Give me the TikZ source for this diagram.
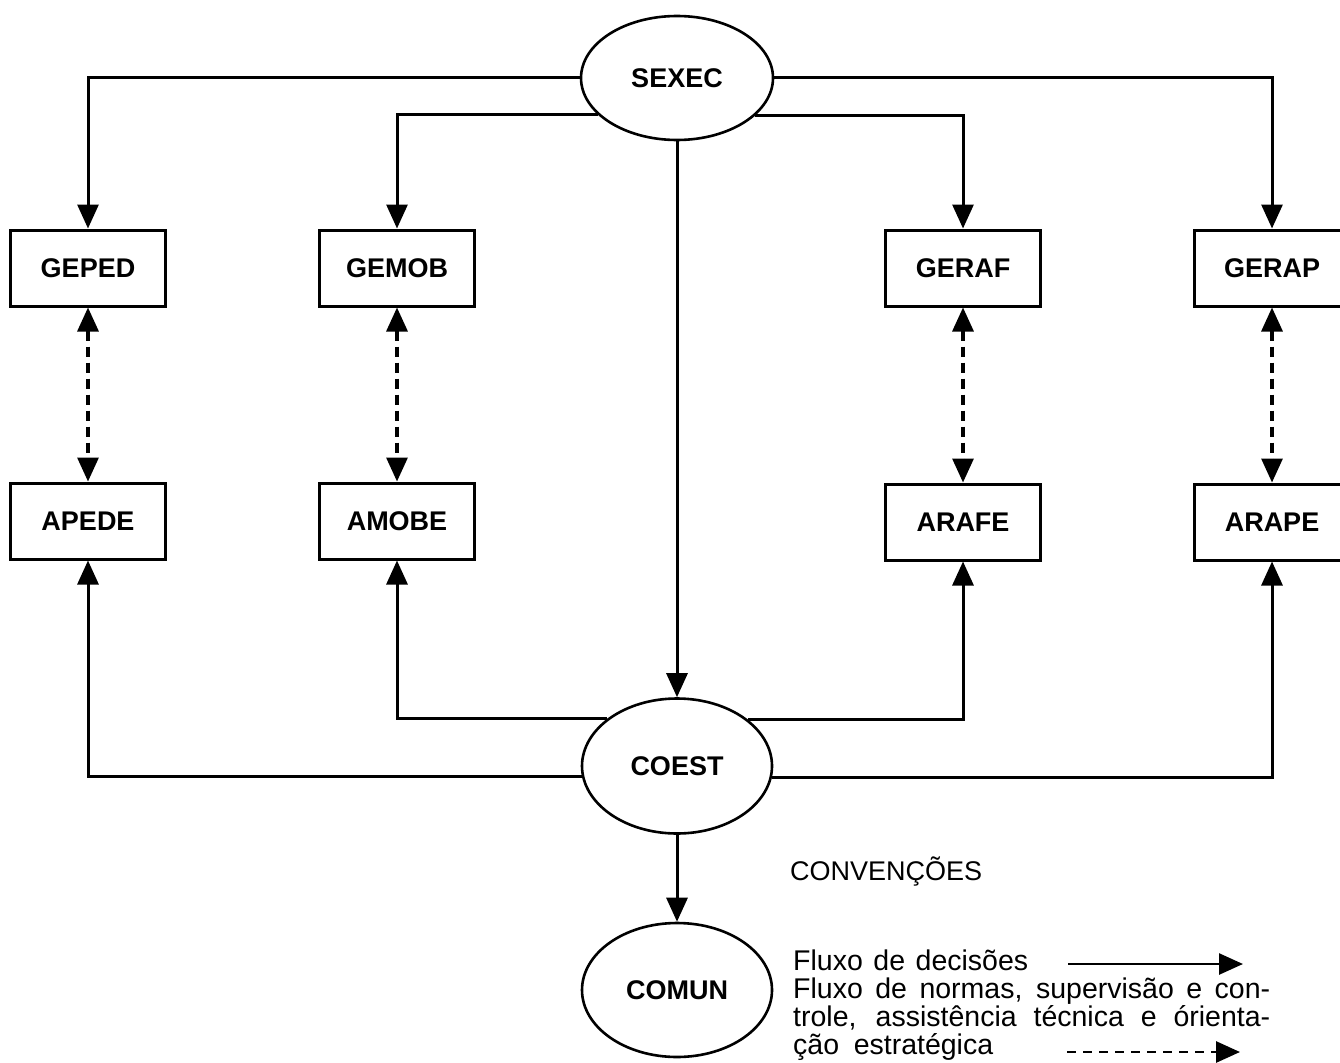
\documentclass[tikz,border=0pt]{standalone}
\usepackage{fontspec}
\setmainfont{Liberation Sans}
\usetikzlibrary{arrows.meta,shapes.geometric}
\begin{document}
\begin{tikzpicture}[x=1pt,y=-1pt,
  lbl/.style={font=\fontsize{27}{30}\selectfont\bfseries},
  box/.style={lbl, draw, line width=3pt, minimum width=155pt, minimum height=76pt, inner sep=0pt},
  oval/.style={lbl, draw, ellipse, line width=2.6pt, fill=white, inner sep=0pt},
  flow/.style={line width=3pt, line join=miter, -{Triangle[length=24pt,width=21pt]}},
  norm/.style={line width=3.2pt, dash pattern=on 10pt off 6pt, {Triangle[length=24pt,width=21pt]}-{Triangle[length=24pt,width=21pt]}},
  legtxt/.style={anchor=base west, inner sep=0pt, font=\fontsize{28.5}{30}\selectfont},
]
\useasboundingbox (0,0) rectangle (1340,1062);

% ellipses
\node[oval, minimum width=192pt, minimum height=124pt] (SEXEC) at (677,78) {SEXEC};
\node[oval, minimum width=190pt, minimum height=135pt] (COEST) at (677,766) {COEST};
\node[oval, minimum width=190pt, minimum height=134pt] (COMUN) at (677,990) {COMUN};

% boxes
\node[box] (GEPED) at (88,268) {GEPED};
\node[box] (GEMOB) at (397,268) {GEMOB};
\node[box] (GERAF) at (963,268) {GERAF};
\node[box] (GERAP) at (1272,268) {GERAP};
\node[box] (APEDE) at (88,521) {APEDE};
\node[box] (AMOBE) at (397,521) {AMOBE};
\node[box] (ARAFE) at (963,522) {ARAFE};
\node[box] (ARAPE) at (1272,522) {ARAPE};

% decisions from SEXEC
\draw[flow] (SEXEC.west) -| (GEPED.north);
\draw[flow] (SEXEC.east) -| (GERAP.north);
\draw[flow] (SEXEC.205.7) -| (GEMOB.north);
\draw[flow] (SEXEC.334.3) -| (GERAF.north);
\draw[flow] (SEXEC.south) -- (COEST.north);

% from COEST
\draw[flow] (COEST.146.5) -| (AMOBE.south);
\draw[flow] (COEST.33.5) -| (ARAFE.south);
\draw[flow] (COEST.186.1) -| (APEDE.south);
\draw[flow] (COEST.353.9) -| (ARAPE.south);
\draw[flow] (COEST.south) -- (COMUN.north);

% norms (dashed, both ways)
\draw[norm] (GEPED.south) -- (APEDE.north);
\draw[norm] (GEMOB.south) -- (AMOBE.north);
\draw[norm] (GERAF.south) -- (ARAFE.north);
\draw[norm] (GERAP.south) -- (ARAPE.north);

% legend
\node[legtxt, font=\fontsize{27}{30}\selectfont] (conv) at (790,880) {CONVENÇÕES};
\node[legtxt] (l1) at (793,970) {\makebox[235pt][s]{Fluxo de decisões}};
\node[legtxt] (l2) at (793,998) {\makebox[477pt][s]{Fluxo de normas, supervisão e con-}};
\node[legtxt] (l3) at (793,1026) {\makebox[477pt][s]{trole, assistência técnica e órienta-}};
\node[legtxt] (l4) at (793,1054) {\makebox[200pt][s]{ção estratégica}};

\coordinate (s1) at (1068,964);
\coordinate (s2) at (1243,964);
\draw[flow, line width=2.6pt] (s1) -- (s2);
\coordinate (d1) at (1067,1052);
\coordinate (d2) at (1240,1052);
\draw[line width=2.8pt, dash pattern=on 9pt off 7pt, -{Triangle[length=24pt,width=21pt]}] (d1) -- (d2);
\end{tikzpicture}
\end{document}
